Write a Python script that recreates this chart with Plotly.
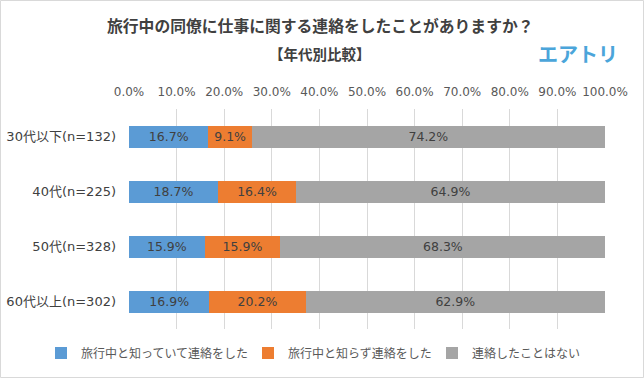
import plotly.graph_objects as go

categories = ["30代以下(n=132)", "40代(n=225)", "50代(n=328)", "60代以上(n=302)"]
series_names = ["旅行中と知っていて連絡をした", "旅行中と知らず連絡をした", "連絡したことはない"]
knew = [16.7, 18.7, 15.9, 16.9]
didnt_know = [9.1, 16.4, 15.9, 20.2]
never = [74.2, 64.9, 68.3, 62.9]
tick_values = [0, 10, 20, 30, 40, 50, 60, 70, 80, 90, 100]
tick_labels = [f"{v:.1f}%" for v in tick_values]

colors = ["#5B9BD5", "#ED7D31", "#A5A5A5"]
CJK = "Noto Sans CJK JP"
MIX = "DejaVu Sans, Noto Sans CJK JP"
legend_ids = ["legend", "legend2", "legend3"]
legend_x = [41, 248, 432]

fig = go.Figure()
for name, vals, col, lid in zip(series_names, [knew, didnt_know, never], colors, legend_ids):
    fig.add_trace(go.Bar(
        y=categories, x=vals, name=name, orientation="h",
        marker=dict(color=col, line=dict(width=0)),
        text=[f"{v:.1f}%" for v in vals], textposition="inside",
        insidetextanchor="middle", constraintext="none",
        textfont=dict(family=MIX, size=12.5, color="#404040"),
        width=0.4, legend=lid,
    ))

leg_common = dict(orientation="h", xref="container", yref="container", y=0.066,
                  xanchor="left", yanchor="middle", bgcolor="rgba(0,0,0,0)",
                  font=dict(family=CJK, size=12, color="#595959"), itemwidth=30)
fig.update_layout(
    barmode="stack",
    width=644, height=378,
    margin=dict(l=129, r=39, t=109, b=49),
    paper_bgcolor="white", plot_bgcolor="white",
    font=dict(family=MIX, color="#595959", size=12),
    showlegend=True,
    legend=dict(x=legend_x[0] / 644, **leg_common),
    legend2=dict(x=legend_x[1] / 644, **leg_common),
    legend3=dict(x=legend_x[2] / 644, **leg_common),
)
fig.update_xaxes(
    range=[0, 100], side="top", tickvals=tick_values, ticktext=tick_labels,
    showgrid=True, gridcolor="#D9D9D9", gridwidth=1,
    zeroline=False, showline=False, ticks="", automargin=False,
    tickfont=dict(family=MIX, size=12, color="#595959"),
    ticklabelstandoff=10, fixedrange=True,
)
fig.update_yaxes(
    autorange="reversed", showgrid=False, showline=False, ticks="", automargin=False,
    tickfont=dict(family=MIX, size=13, color="#404040"),
    ticklabelstandoff=12,
)

W = 476
H = 220
for txt, yy, sz in [("<b>旅行中の同僚に仕事に関する連絡をしたことがありますか？</b>", 25, 15.8),
                    ("<b>【年代別比較】</b>", 53, 14.5)]:
    fig.add_annotation(text=txt, xref="paper", yref="paper",
                       x=(320 - 129) / W, y=1 + (109 - yy) / H,
                       showarrow=False, xanchor="center", yanchor="middle",
                       font=dict(family=CJK, size=sz, color="#404040"))

fig.add_annotation(text="<b>エアトリ</b>", xref="paper", yref="paper",
                   x=(578 - 129) / W, y=1 + (109 - 53) / H, showarrow=False,
                   xanchor="center", yanchor="middle",
                   font=dict(family=CJK, size=20, color="#4BA5DA"))

fig.add_shape(type="rect", xref="paper", yref="paper",
              x0=-128.5 / W, x1=1 + 38.5 / W, y0=-48.5 / H, y1=1 + 108.5 / H,
              line=dict(color="#D9D9D9", width=1), fillcolor="rgba(0,0,0,0)", layer="above")

fig.write_html("out.html",
               config={"displayModeBar": False},
               post_script="document.body.style.margin='0';document.body.style.overflow='hidden';")
